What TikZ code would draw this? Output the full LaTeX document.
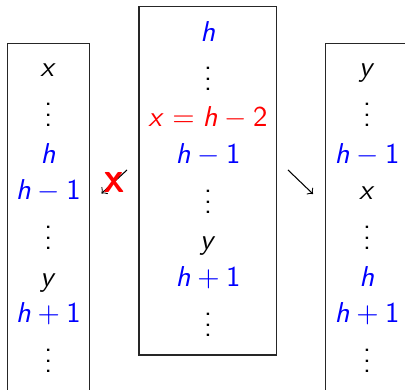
\documentclass[tikz,border=0pt]{standalone}
\DeclareSymbolFont{sfletters}{OT1}{cmss}{m}{sl}
\DeclareSymbolFont{sfdigits}{OT1}{cmss}{m}{n}
\DeclareMathSymbol{x}{\mathalpha}{sfletters}{`x}
\DeclareMathSymbol{y}{\mathalpha}{sfletters}{`y}
\DeclareMathSymbol{h}{\mathalpha}{sfletters}{`h}
\DeclareMathSymbol{1}{\mathalpha}{sfdigits}{`1}
\DeclareMathSymbol{2}{\mathalpha}{sfdigits}{`2}
\definecolor{bl}{RGB}{0,0,255}
\definecolor{rd}{RGB}{255,0,0}
\begin{document}
\begin{tikzpicture}[x=0.381pt,y=-0.381pt,
  txt/.style={inner sep=0pt, anchor=base, font=\fontsize{11}{13}\selectfont\sffamily},
  dots/.style={txt, text height=8.5pt},
  blu/.style={text=bl}, red/.style={text=rd},
  frame/.style={draw=black!85, line width=0.5pt},
  arr/.style={->, line width=0.4pt}]
\useasboundingbox (0,0) rectangle (405,390);
% boxes
\draw[frame] (7.5,400) -- (7.5,43.3) -- (89.3,43.3) -- (89.3,400);
\draw[frame] (139,6.7) rectangle (276.7,355);
\draw[frame] (325.7,400) -- (325.7,43.3) -- (420,43.3);
% left column
\node[txt] (l1) at (48.4,77) {$x$};
\node[dots] (l2) at (48.4,127) {$\vdots$};
\node[txt,blu] (l3) at (48.4,163.3) {$h$};
\node[txt,blu] (l4) at (48.4,200) {$h-1$};
\node[dots] (l5) at (48.4,250) {$\vdots$};
\node[txt] (l6) at (48.4,286.5) {$y$};
\node[txt,blu] (l7) at (48.4,323) {$h+1$};
\node[dots] (l8) at (48.4,373) {$\vdots$};
% middle column
\node[txt,blu] (m1) at (208,41.5) {$h$};
\node[dots] (m2) at (208,91) {$\vdots$};
\node[txt,red] (m3) at (208,127) {$x=h-2$};
\node[txt,blu] (m4) at (208,163.5) {$h-1$};
\node[dots] (m5) at (208,214) {$\vdots$};
\node[txt] (m6) at (208,250) {$y$};
\node[txt,blu] (m7) at (208,287) {$h+1$};
\node[dots] (m8) at (208,337) {$\vdots$};
% right column
\node[txt] (r1) at (367,77) {$y$};
\node[dots] (r2) at (367,127) {$\vdots$};
\node[txt,blu] (r3) at (367,163.3) {$h-1$};
\node[txt] (r4) at (367,200) {$x$};
\node[dots] (r5) at (367,250) {$\vdots$};
\node[txt,blu] (r6) at (367,286.5) {$h$};
\node[txt,blu] (r7) at (367,323) {$h+1$};
\node[dots] (r8) at (367,373) {$\vdots$};
% arrows
\coordinate (a1s) at (127,170);
\coordinate (a1e) at (101.5,193.5);
\coordinate (a2s) at (288,170);
\coordinate (a2e) at (313,194);
\draw[arr] (a1s) -- (a1e);
\draw[arr] (a2s) -- (a2e);
\node[inner sep=0pt, text=rd, font=\fontsize{11}{13}\selectfont\sffamily\bfseries] (cross) at (114,182) {X};
\end{tikzpicture}
\end{document}
